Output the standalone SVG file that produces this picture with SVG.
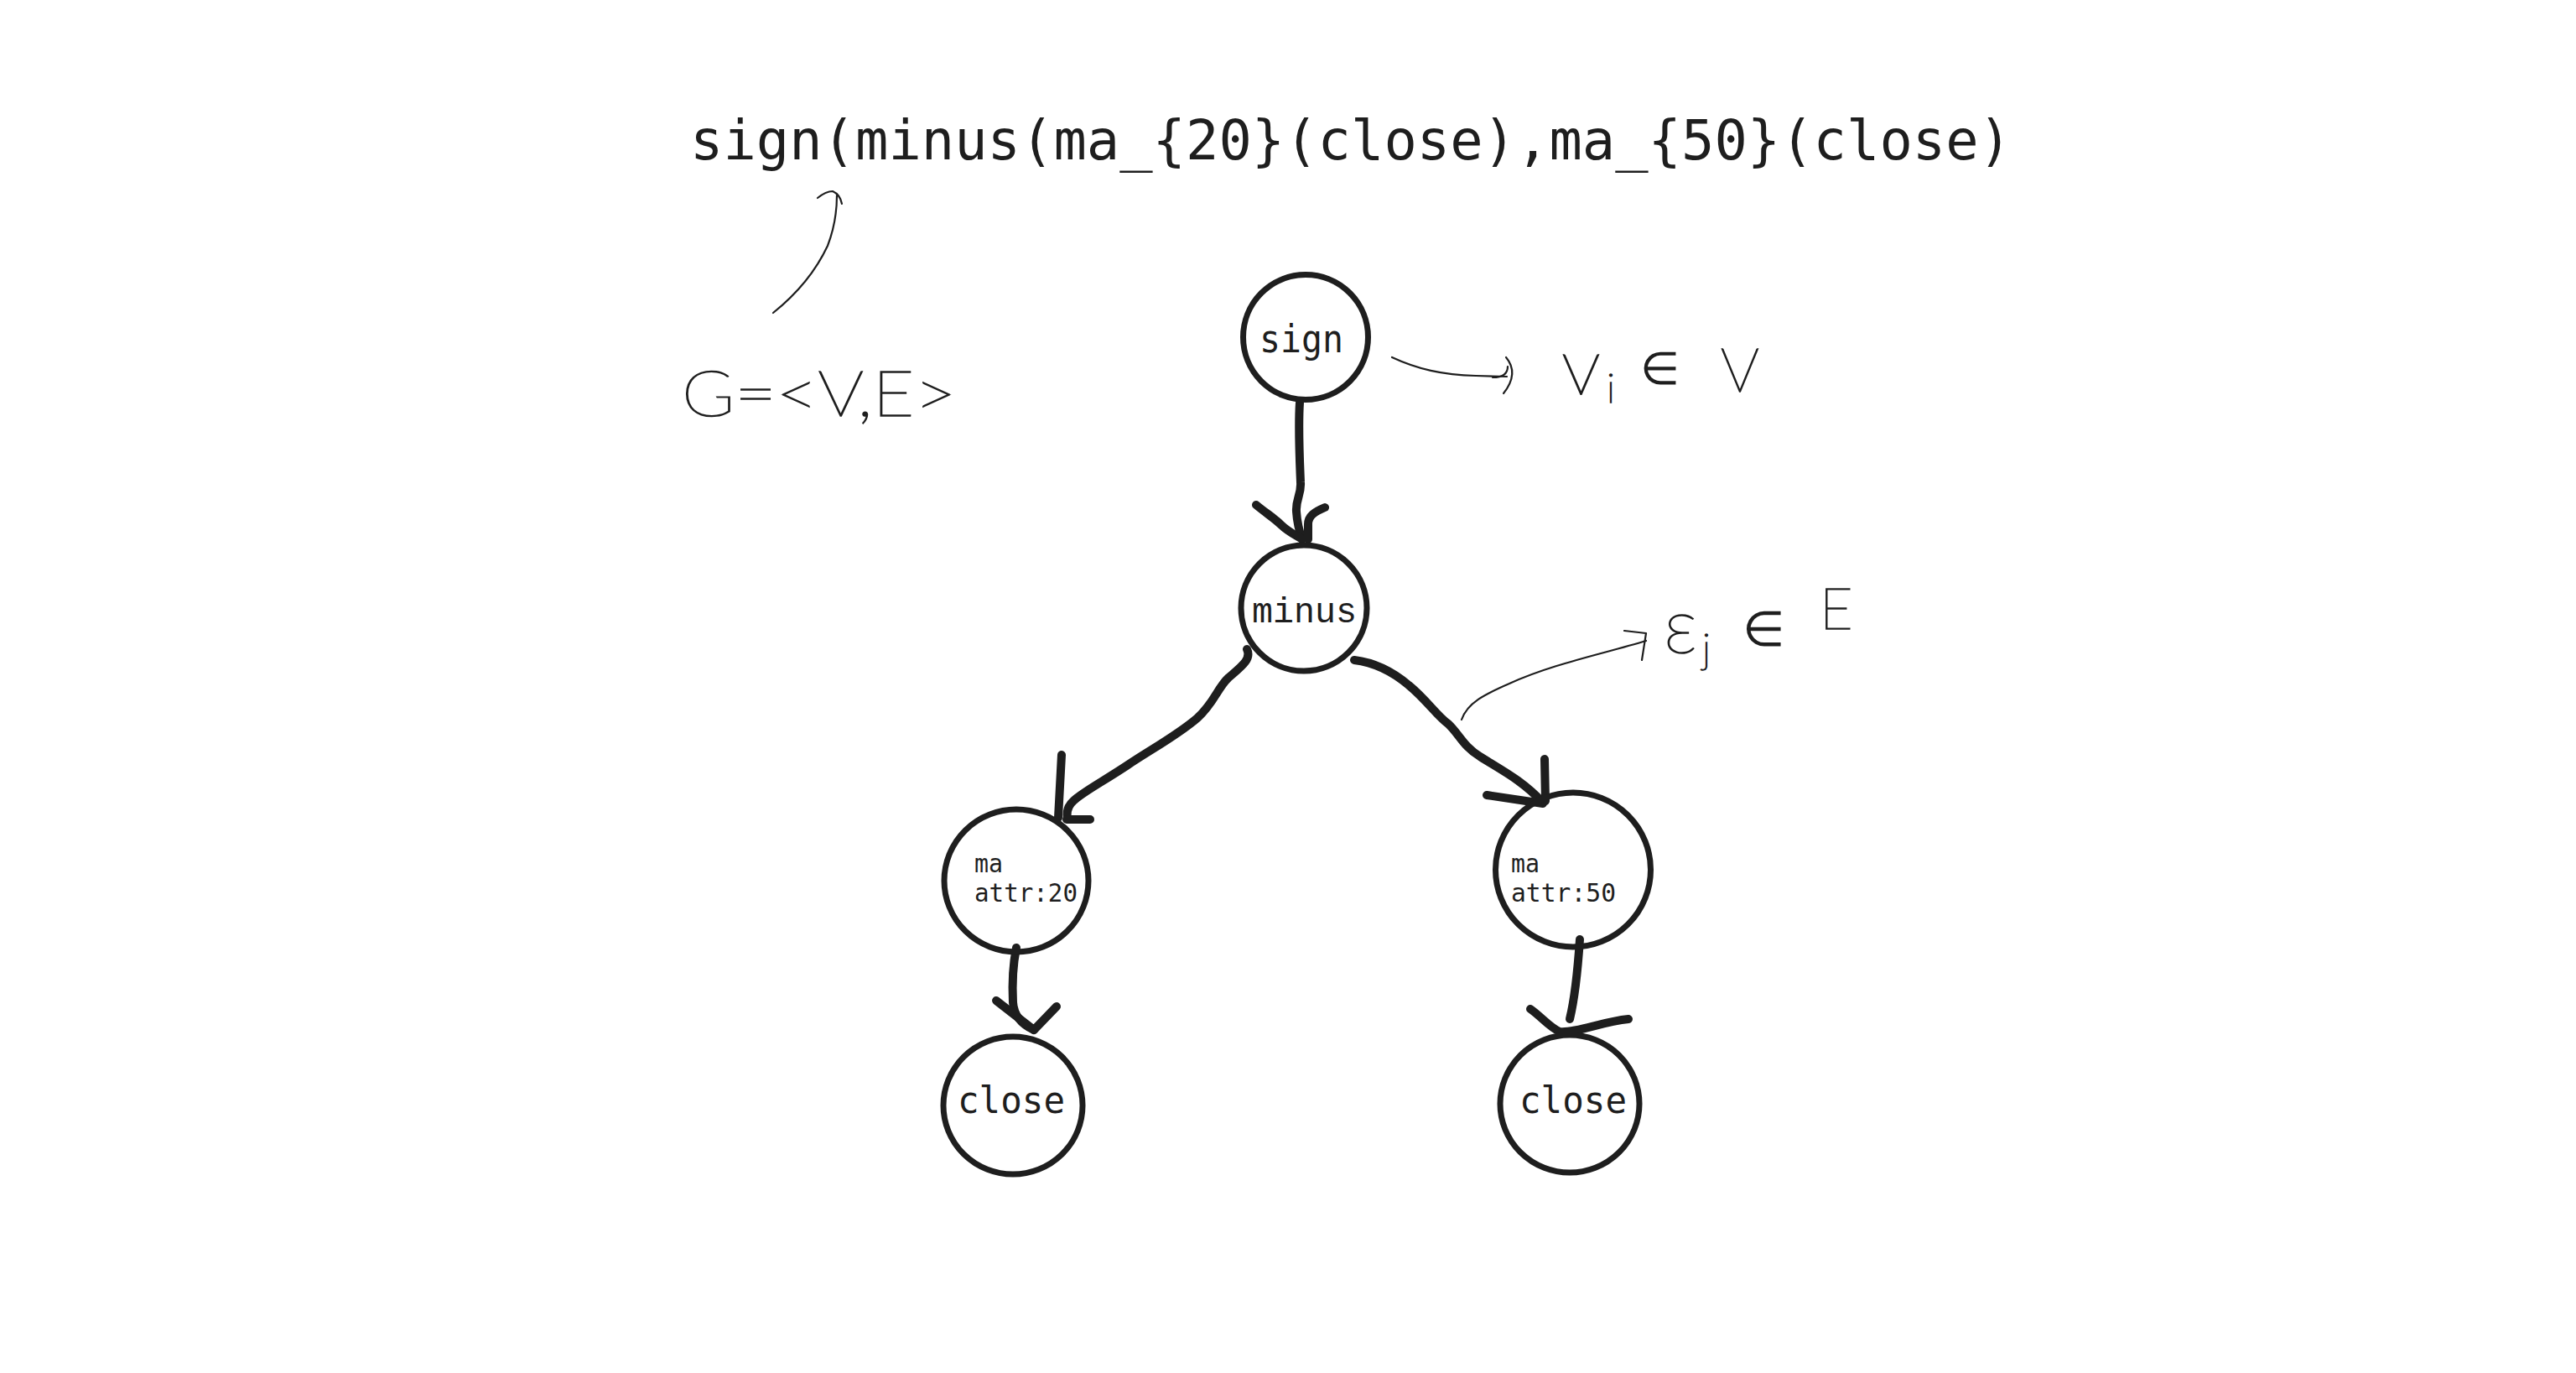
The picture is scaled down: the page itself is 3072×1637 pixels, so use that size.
<svg xmlns="http://www.w3.org/2000/svg" width="3072" height="1637" viewBox="0 0 3072 1637">
<style>
.node{fill:none;stroke:#1e1e1e;stroke-width:7}
.edge{fill:none;stroke:#1e1e1e;stroke-width:10;stroke-linecap:round;stroke-linejoin:round}
.note{fill:none;stroke:#1e1e1e;stroke-width:2.2;stroke-linecap:round;stroke-linejoin:round}
.mono{font-family:"DejaVu Sans Mono","Liberation Mono",monospace;fill:#1e1e1e}
.mono2{font-family:"Liberation Mono","DejaVu Sans Mono",monospace;fill:#1e1e1e}
.hand{font-family:Lato,"Open Sans","DejaVu Sans",sans-serif;font-weight:100;fill:#1e1e1e;stroke:#1e1e1e;stroke-width:1.6}
.sym{font-family:"DejaVu Sans","Noto Sans",sans-serif;font-weight:200;stroke:none}
</style>
<rect width="3072" height="1637" fill="#ffffff"/>
<text class="mono" x="823" y="190" font-size="66" textLength="1576" lengthAdjust="spacingAndGlyphs">sign(minus(ma_{20}(close),ma_{50}(close)</text>

<g id="annotations">
<path class="note" d="M922,373 C947,353 972,325 987,293 C995,272 998,250 998,233"/>
<path class="note" d="M975,236 Q985,228 993,228 Q1002,232 1004,243"/>
<text class="hand" x="813" y="496" font-size="76" textLength="327" lengthAdjust="spacingAndGlyphs">G=&lt;V,E&gt;</text>
<path class="note" d="M1660,426 C1690,440 1720,447 1760,448 L1797,449"/>
<path class="note" d="M1780,450 Q1798,450 1798,437"/>
<path class="note" d="M1796,426 Q1812,445 1793,469"/>
<text class="hand" font-size="96"><tspan x="1862" y="470">v</tspan><tspan x="1916" y="480" font-size="48">i</tspan><tspan class="sym" x="1956" y="458" font-size="54">∈</tspan><tspan x="2052" y="467" font-size="72">V</tspan></text>
<path class="note" d="M1743,858 C1750,838 1770,828 1800,815 C1850,792 1910,780 1963,764"/>
<path class="note" d="M1937,752 L1963,755 L1958,787"/>
<text class="hand" font-size="90"><tspan x="1984" y="778">ε</tspan><tspan x="2030" y="790" font-size="48">j</tspan><tspan class="sym" x="2078" y="770" font-size="58">∈</tspan><tspan x="2170" y="750" font-size="68">E</tspan></text>
</g>

<g id="connectors">
<path class="edge" d="M1550,480 C1548,510 1550,550 1551,575 C1552,590 1545,595 1546,610 C1547,625 1550,635 1553,643"/>
<path class="edge" d="M1498,602 C1510,612 1520,618 1528,626 C1535,633 1543,637 1553,643 M1580,605 C1568,610 1560,615 1560,625 L1560,643"/>
<path class="edge" d="M1487,774 C1493,786 1480,795 1465,808 C1452,820 1448,838 1428,856 C1405,876 1375,892 1345,912 C1315,932 1290,945 1280,955 C1272,962 1272,970 1273,976"/>
<path class="edge" d="M1266,900 L1262,975 M1272,977 L1300,977"/>
<path class="edge" d="M1615,787 C1640,790 1660,800 1680,817 C1700,833 1715,855 1727,863 C1740,875 1745,890 1765,902 C1790,918 1815,930 1840,957"/>
<path class="edge" d="M1842,905 L1843,955 M1773,948 L1840,958"/>
<path class="edge" d="M1212,1130 C1208,1150 1207,1175 1208,1195 C1209,1212 1220,1222 1233,1228"/>
<path class="edge" d="M1188,1193 L1233,1228 L1260,1200"/>
<path class="edge" d="M1884,1120 C1882,1150 1878,1190 1872,1215"/>
<path class="edge" d="M1825,1203 C1838,1212 1848,1225 1860,1230 C1880,1232 1910,1218 1942,1215"/>
</g>

<g id="node-sign">
<ellipse class="node" cx="1557" cy="402" rx="74.5" ry="74.5"/>
<text class="mono" x="1502" y="420" font-size="46" textLength="100" lengthAdjust="spacingAndGlyphs">sign</text>
</g>
<g id="node-minus">
<ellipse class="node" cx="1555" cy="725" rx="75" ry="75"/>
<text class="mono2" x="1493" y="742" font-size="42" textLength="125" lengthAdjust="spacingAndGlyphs">minus</text>
</g>
<g id="node-ma20">
<ellipse class="node" cx="1212" cy="1050" rx="86" ry="85"/>
<text class="mono" font-size="31"><tspan x="1162" y="1040" textLength="34" lengthAdjust="spacingAndGlyphs">ma</tspan><tspan x="1162" y="1075" textLength="123" lengthAdjust="spacingAndGlyphs">attr:20</tspan></text>
</g>
<g id="node-ma50">
<ellipse class="node" cx="1876" cy="1037" rx="92.5" ry="92"/>
<text class="mono" font-size="31"><tspan x="1802" y="1040" textLength="34" lengthAdjust="spacingAndGlyphs">ma</tspan><tspan x="1802" y="1075" textLength="125" lengthAdjust="spacingAndGlyphs">attr:50</tspan></text>
</g>
<g id="node-close-left">
<ellipse class="node" cx="1208" cy="1318" rx="83" ry="82"/>
<text class="mono" x="1142" y="1327" font-size="44" textLength="128" lengthAdjust="spacingAndGlyphs">close</text>
</g>
<g id="node-close-right">
<ellipse class="node" cx="1872" cy="1316" rx="83" ry="82"/>
<text class="mono" x="1812" y="1327" font-size="44" textLength="128" lengthAdjust="spacingAndGlyphs">close</text>
</g>
</svg>
